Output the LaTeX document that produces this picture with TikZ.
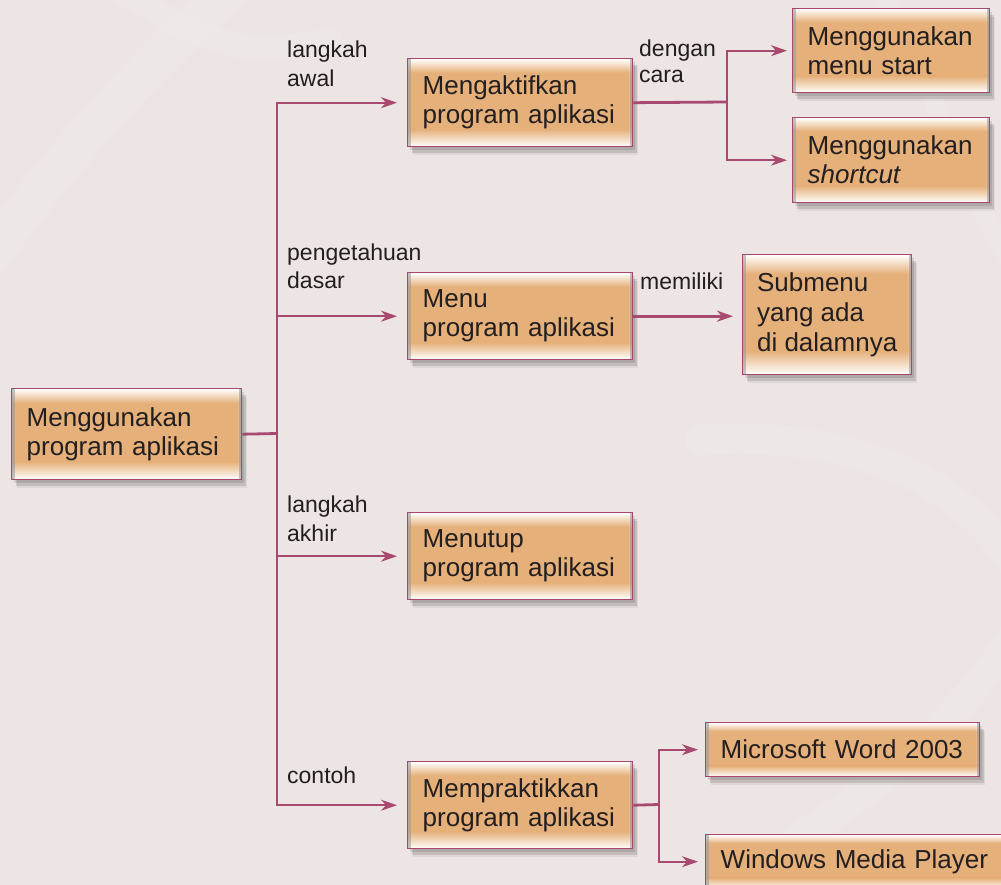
\documentclass[tikz,border=0pt]{standalone}
\usepackage{fontspec}
\setmainfont{Liberation Sans}
\usetikzlibrary{arrows.meta,shadows,calc}
\definecolor{bg}{HTML}{ECE5E3}
\definecolor{boxor}{HTML}{E5B079}
\definecolor{bord}{HTML}{A9466E}
\definecolor{conn}{HTML}{A84A70}
\definecolor{txt}{HTML}{231F20}
\newcommand\bxfont{\fontsize{26}{29}\selectfont}
\newcommand\lblfont{\fontsize{23}{29}\selectfont}
\tikzset{
  boxfill/.style={path picture={
    \coordinate (pA) at (path picture bounding box.north west);
    \coordinate (pB) at (path picture bounding box.south east);
    \fill[boxor] (pA) rectangle (pB);
    \fill[top color=white, bottom color=boxor] let \p1=(pA), \p2=(pB) in (\x1,\y1) rectangle (\x2,{\y1+0.16*(\y2-\y1)});
    \fill[top color=boxor, bottom color=white] let \p1=(pA), \p2=(pB) in (\x1,{\y1+0.80*(\y2-\y1)}) rectangle (\x2,\y2);
    \fill[left color=white, right color=white, middle color=white, fill opacity=0.35] let \p1=(pA), \p2=(pB) in (\x1,\y1) rectangle ({\x1+3pt},\y2);
    \fill[left color=white, right color=white, middle color=white, fill opacity=0.35] let \p1=(pA), \p2=(pB) in ({\x2-3pt},\y1) rectangle (\x2,\y2);
  }},
  box/.style={draw=bord, line width=1.4pt, boxfill, anchor=north west,
    inner xsep=15pt, inner ysep=0pt, align=left, text=txt, font=\bxfont,
    general shadow={shadow xshift=2pt, shadow yshift=-3pt, shadow scale=1.0, fill=black, opacity=0.10},
    general shadow={shadow xshift=4pt, shadow yshift=-6pt, shadow scale=1.0, fill=black, opacity=0.12},
    general shadow={shadow xshift=5pt, shadow yshift=-8pt, shadow scale=1.0, fill=black, opacity=0.06}},
  lbl/.style={anchor=north west, inner sep=0pt, align=left, text=txt, font=\lblfont},
  branch/.style={draw=conn, line width=2pt},
  stem/.style={draw=conn, line width=2.8pt},
  tip/.style={-{Stealth[length=16pt,width=11pt,inset=5pt]}},
  swirl/.style={draw=white, opacity=0.10, line cap=round}
}
\begin{document}
\begin{tikzpicture}[x=1pt,y=-1pt]
\useasboundingbox (0,0) rectangle (1001,885);
\clip (0,0) rectangle (1001,885);
\fill[bg] (0,0) rectangle (1001,885);
% faint background swirls
\draw[swirl, line width=40pt] (-20,270) .. controls (60,160) and (140,70) .. (230,-10);
\draw[swirl, line width=25pt] (120,-10) .. controls (200,40) and (240,60) .. (330,40);
\draw[swirl, line width=30pt] (700,440) .. controls (850,430) and (960,480) .. (1010,560);
\draw[swirl, line width=30pt] (720,880) .. controls (850,820) and (960,720) .. (1010,640);
\draw[swirl, line width=20pt] (880,-10) .. controls (930,80) and (970,200) .. (1010,260);

% boxes
\node[box, minimum width=230pt, minimum height=91pt, text width=200pt] (main) at (11,388) {Menggunakan\\program aplikasi};
\node[box, minimum width=225pt, minimum height=88pt, text width=195pt] (akt) at (407,58) {Mengaktifkan\\program aplikasi};
\node[box, minimum width=197pt, minimum height=84pt, text width=167pt] (start) at (792,8) {Menggunakan\\menu start};
\node[box, minimum width=197pt, minimum height=85pt, text width=167pt] (short) at (792,117) {Menggunakan\\\textit{shortcut}};
\node[box, minimum width=225pt, minimum height=87pt, text width=195pt] (menu) at (407,272) {Menu\\program aplikasi};
\node[box, minimum width=169pt, minimum height=120pt, inner xsep=14pt, font=\fontsize{26}{30}\selectfont] (sub) at (742,254) {Submenu\\yang ada\\di dalamnya};
\node[box, minimum width=225pt, minimum height=87pt, text width=195pt] (tutup) at (407,512) {Menutup\\program aplikasi};
\node[box, minimum width=225pt, minimum height=87pt, text width=195pt] (prak) at (407,761) {Mempraktikkan\\program aplikasi};
\node[box, minimum width=274pt, minimum height=54pt, text width=244pt] (word) at (705,722) {Microsoft Word 2003};
\node[box, minimum width=305pt, minimum height=54pt, text width=275pt] (wmp) at (705,834) {Windows Media Player};

% labels
\node[lbl] (l1) at (287,41) {langkah\\awal};
\node[lbl, font=\fontsize{23}{28}\selectfont] (l2) at (287,244) {pengetahuan\\dasar};
\node[lbl] (l3) at (287,496) {langkah\\akhir};
\node[lbl] (l4) at (287,767) {contoh};
\node[lbl, font=\fontsize{23}{26}\selectfont] (l5) at (639,40) {dengan\\cara};
\node[lbl] (l6) at (640,273) {memiliki};

% connectors
\coordinate (tr) at (277,433.5);
\coordinate (f1) at (727,102);
\coordinate (f2) at (659,804.5);
\draw[stem] (main.east) -- (tr);
\draw[branch, tip, shorten >=10pt] (tr) |- (akt.west);
\draw[branch, tip, shorten >=10pt] (tr) |- (menu.west);
\draw[branch, tip, shorten >=10pt] (tr) |- (tutup.west);
\draw[branch, tip, shorten >=10pt] (tr) |- (prak.west);

\draw[stem] (akt.east) -- (f1);
\draw[branch, tip, shorten >=5pt] (f1) |- (start.west);
\draw[branch, tip, shorten >=5pt] (f1) |- (short.west);

\draw[stem, tip, shorten >=9pt] (menu.east) -- (menu.east -| sub.west);

\draw[stem] (prak.east) -- (f2);
\draw[branch, tip, shorten >=7pt] (f2) |- (word.west);
\draw[branch, tip, shorten >=7pt] (f2) |- (wmp.west);
\end{tikzpicture}
\end{document}
